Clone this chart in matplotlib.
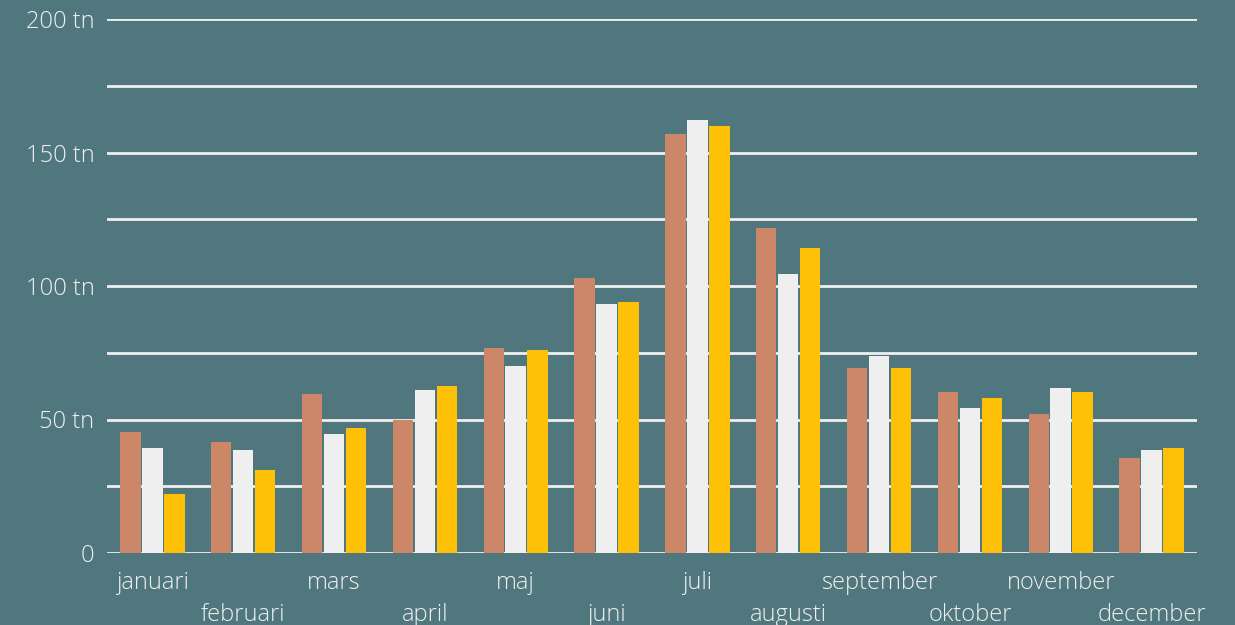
import numpy as np
import matplotlib.pyplot as plt

months = ['januari', 'februari', 'mars', 'april', 'maj', 'juni',
          'juli', 'augusti', 'september', 'oktober', 'november', 'december']
series_a = [45.3, 41.6, 59.6, 49.8, 76.8, 103.0, 156.9, 121.7, 69.3, 60.3, 52.1, 35.6]
series_b = [39.3, 38.6, 44.6, 61.0, 70.0, 93.3, 162.2, 104.5, 73.8, 54.3, 61.8, 38.6]
series_c = [22.1, 31.1, 46.8, 62.5, 76.0, 94.0, 159.9, 114.2, 69.3, 58.1, 60.3, 39.3]
y_ticks = [0, 50, 100, 150, 200]
y_labels = ['0', '50 tn', '100 tn', '150 tn', '200 tn']

BG = '#50777D'
TXT = '#EFEFEF'
colors = ['#CB8768', '#EFEFEF', '#FFC107']

plt.rcParams['font.family'] = ['Open Sans', 'DejaVu Sans']
FS = 17

fig = plt.figure(figsize=(12.35, 6.25), dpi=100, facecolor=BG)
ax = fig.add_axes([0.0866, 0.1152, 0.8826, 0.8544], facecolor=BG)

x = np.arange(len(months))
w = 0.225
step = 0.242
for i, (vals, c) in enumerate(zip([series_a, series_b, series_c], colors)):
    ax.bar(x + (i - 1) * step, vals, width=w, color=c, zorder=3)

ax.set_xlim(-0.5, len(months) - 0.5)
ax.set_ylim(0, 200)

# grid every 25, labels every 50
ax.set_yticks(np.arange(0, 201, 25), minor=True)
ax.set_yticks(y_ticks)
ax.set_yticklabels(y_labels, color=TXT, fontsize=FS, fontweight='light')
ax.grid(axis='y', which='both', color=TXT, linewidth=2, zorder=0)
ax.tick_params(axis='y', which='both', length=0, pad=9)
ax.set_axisbelow(True)

ax.set_xticks([])
for i, m in enumerate(months):
    off = -26 if i % 2 == 0 else -49
    ax.annotate(m, xy=(i, 0), xycoords=('data', 'axes fraction'),
                xytext=(0, off), textcoords='offset points',
                ha='center', va='baseline', color=TXT, fontsize=FS,
                fontweight='light', annotation_clip=False)

for s in ax.spines.values():
    s.set_visible(False)

fig.savefig('out.png', dpi=100, facecolor=BG)
